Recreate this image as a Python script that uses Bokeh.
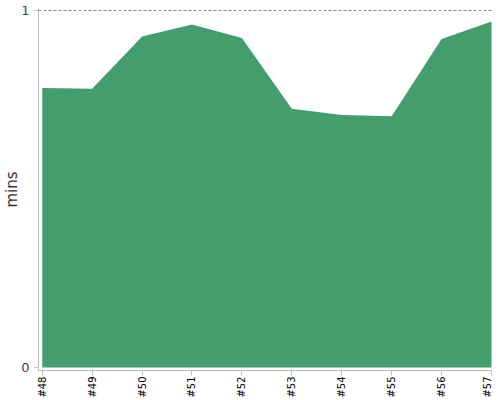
import math
from bokeh.plotting import figure
from bokeh.models import FixedTicker, Range1d, Span
from bokeh.embed import file_html
from bokeh.resources import INLINE

categories = ["#48", "#49", "#50", "#51", "#52", "#53", "#54", "#55", "#56", "#57"]
mins = [0.783, 0.781, 0.927, 0.961, 0.923, 0.725, 0.707, 0.704, 0.920, 0.969]
y_ticks = [0, 1]

xs = list(range(len(categories)))

p = figure(width=492, height=400, output_backend="svg", toolbar_location=None,
           x_range=Range1d(-0.075, 9.02), y_range=Range1d(-0.0085, 1.0056),
           min_border=0, min_border_left=33, min_border_right=0, min_border_top=8,
           min_border_bottom=0)

p.varea(x=xs, y1=[0] * len(xs), y2=mins, fill_color="#449d6d", fill_alpha=1.0)

p.add_layout(Span(location=1, dimension="width", line_color="#888888",
                  line_dash="3 2", line_width=1))

p.outline_line_color = None
p.xgrid.grid_line_color = None
p.ygrid.grid_line_color = None

p.xaxis.ticker = FixedTicker(ticks=xs)
p.xaxis.major_label_overrides = {i: c for i, c in enumerate(categories)}
p.xaxis.major_label_orientation = math.pi / 2
p.xaxis.major_label_text_font_size = "10px"
p.xaxis.major_label_text_color = "#000000"
p.xaxis.major_label_text_font = "DejaVu Sans"
p.xaxis.major_label_standoff = 1
p.xaxis.minor_tick_line_color = None
p.xaxis.major_tick_in = 0
p.xaxis.major_tick_out = 5
p.xaxis.axis_line_color = "#bbbbbb"
p.xaxis.major_tick_line_color = "#bbbbbb"

p.yaxis.ticker = FixedTicker(ticks=y_ticks)
p.yaxis.minor_tick_line_color = None
p.yaxis.major_tick_in = 0
p.yaxis.major_tick_out = 4
p.yaxis.axis_line_color = "#bbbbbb"
p.yaxis.major_tick_line_color = "#bbbbbb"
p.yaxis.major_label_text_font_size = "13px"
p.yaxis.major_label_text_color = "#444444"
p.yaxis.major_label_text_font = "DejaVu Sans"
p.yaxis.major_label_standoff = 5
p.yaxis.axis_label = "mins"
p.yaxis.axis_label_text_font_size = "15px"
p.yaxis.axis_label_text_font_style = "normal"
p.yaxis.axis_label_text_color = "#333333"
p.yaxis.axis_label_text_font = "DejaVu Sans"
p.yaxis.axis_label_standoff = -3

open("out.html", "w").write(file_html(p, INLINE))
